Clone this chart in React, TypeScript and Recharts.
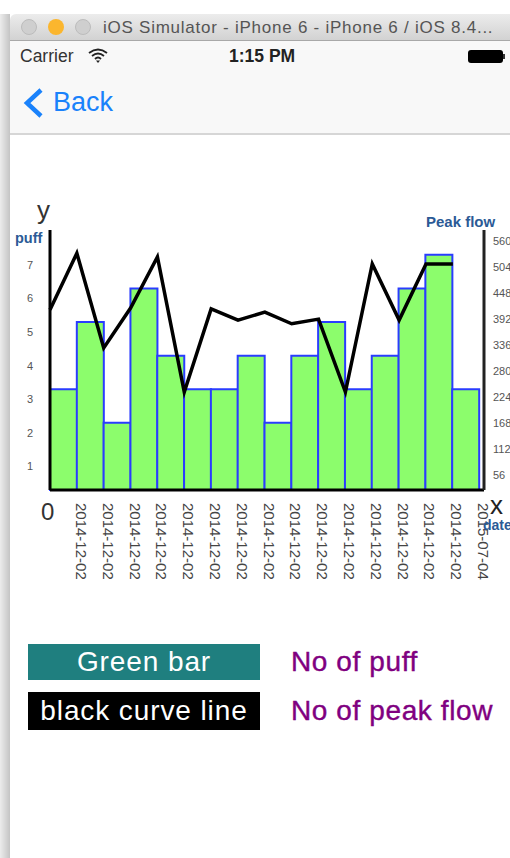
import { ComposedChart, Bar, Line, XAxis, YAxis } from 'recharts';

const dates = [
  '2014-12-02', '2014-12-02', '2014-12-02', '2014-12-02',
  '2014-12-02', '2014-12-02', '2014-12-02', '2014-12-02',
  '2014-12-02', '2014-12-02', '2014-12-02', '2014-12-02',
  '2014-12-02', '2014-12-02', '2014-12-02', '2015-07-04',
];
const slots = [0, 1, 2, 3, 4, 5, 6, 7, 8, 9, 10, 11, 12, 13, 14, 15];
const puffs = [3, 5, 2, 6, 4, 3, 3, 4, 2, 4, 5, 3, 4, 6, 7, 3];
const peakFlows = [388, 510, 306, 392, 502, 211, 390, 366, 383, 358, 368, 211, 487, 366, 487, 487];
const puffTicks = [1, 2, 3, 4, 5, 6, 7];
const peakTicks = [56, 112, 168, 224, 280, 336, 392, 448, 504, 560];

const data = dates.map((date, i) => ({ date, slot: slots[i], puff: puffs[i], peak: peakFlows[i] }));

const FONT = '"Liberation Sans", Arial, sans-serif';
const BLUE = '#2b5a96';

// date labels sit to the right of each bar, reading top to bottom
const DateTick = ({ x, y, payload }: any) => {
  const tx = x + 18;
  const ty = y + 5;
  return (
    <text
      x={tx}
      y={ty}
      transform={`rotate(90 ${tx} ${ty})`}
      fontFamily={FONT}
      fontSize={15}
      fill="#444"
      dominantBaseline="central"
    >
      {payload.value}
    </text>
  );
};

const abs = (left: number, top: number, width: number, height: number) =>
  ({ position: 'absolute', left, top, width, height } as const);

const Chrome = () => (
  <>
    <div style={{ ...abs(0, 0, 510, 858), background: '#fff' }} />
    <div style={{ ...abs(0, 14, 10, 844), background: 'linear-gradient(to right, #ececec, #c4c4c4)' }} />
    <div
      style={{
        ...abs(10, 14, 500, 27),
        background: 'linear-gradient(#ececec, #d2d2d2)',
        borderRadius: '6px 0 0 0',
        borderBottom: '1px solid #a8a8a8',
        boxSizing: 'border-box',
      }}
    />
    <div style={{ ...abs(21, 19, 16, 16), borderRadius: 8, background: '#cfcfcf', border: '1px solid #bcbcbc', boxSizing: 'border-box' }} />
    <div style={{ ...abs(48, 19, 16, 16), borderRadius: 8, background: '#fbb62e', boxSizing: 'border-box' }} />
    <div style={{ ...abs(75, 19, 16, 16), borderRadius: 8, background: '#cfcfcf', border: '1px solid #bcbcbc', boxSizing: 'border-box' }} />
    <div style={{ position: 'absolute', left: 103, top: 18, fontFamily: FONT, fontSize: 17, letterSpacing: 0.75, lineHeight: '19px', color: '#555', whiteSpace: 'nowrap' }}>
      iOS Simulator - iPhone 6 - iPhone 6 / iOS 8.4...
    </div>
    <div style={{ ...abs(10, 41, 500, 94), background: '#f8f8f8', borderBottom: '2px solid #d6d6d6', boxSizing: 'border-box' }} />
    <div style={{ position: 'absolute', left: 20, top: 46, fontFamily: FONT, fontSize: 17.5, lineHeight: '20px', color: '#333' }}>Carrier</div>
    <svg style={abs(88, 48, 20, 16)} viewBox="0 0 20 16">
      <path d="M1 5 Q10 -2 19 5 M4 8 Q10 3 16 8 M7 11 Q10 8 13 11" fill="none" stroke="#222" strokeWidth={1.8} />
      <path d="M8 12.5 L12 12.5 L10 15 Z" fill="#222" />
    </svg>
    <div style={{ position: 'absolute', left: 229, top: 46, fontFamily: FONT, fontSize: 17.5, lineHeight: '20px', fontWeight: 700, color: '#222' }}>1:15 PM</div>
    <div style={{ ...abs(468, 50, 35, 13), background: '#000', borderRadius: 3 }} />
    <div style={{ ...abs(503, 54, 2, 5), background: '#333' }} />
    <svg style={abs(20, 84, 28, 36)} viewBox="0 0 28 36">
      <polyline points="21,6 7,19 21,32" fill="none" stroke="#1a82fb" strokeWidth={4.5} />
    </svg>
    <div style={{ position: 'absolute', left: 53, top: 87, fontFamily: FONT, fontSize: 27, lineHeight: '30px', color: '#1a82fb' }}>Back</div>
  </>
);

const LegendRow = ({ top, height, bg, name, meaning }: any) => (
  <>
    <div
      style={{
        ...abs(28, top, 232, height),
        background: bg,
        color: '#fff',
        fontFamily: FONT,
        fontSize: 28,
        letterSpacing: 0.9,
        lineHeight: `${height}px`,
        textAlign: 'center',
        whiteSpace: 'nowrap',
      }}
    >
      {name}
    </div>
    <div
      style={{
        position: 'absolute',
        left: 291,
        top,
        fontFamily: FONT,
        fontSize: 28,
        letterSpacing: 0.6,
        lineHeight: `${height}px`,
        color: '#800080',
        WebkitTextStroke: '0.4px #800080',
        whiteSpace: 'nowrap',
      }}
    >
      {meaning}
    </div>
  </>
);

export default function App() {
  return (
    <div style={{ ...abs(0, 0, 510, 858), overflow: 'hidden' }}>
      <Chrome />
      <div style={abs(0, 0, 510, 620)}>
        <ComposedChart
          width={510}
          height={620}
          data={data}
          barCategoryGap={0}
          margin={{ top: 230, right: 0, bottom: 0, left: 0 }}
        >
          <XAxis
            xAxisId="bars"
            dataKey="date"
            height={130}
            interval={0}
            padding={{ left: 0, right: 5 }}
            axisLine={{ stroke: '#000', strokeWidth: 3 }}
            tickLine={false}
            tick={<DateTick />}
          />
          {/* the curve's points fall on the left edge of each bar, so it gets its own numeric axis */}
          <XAxis
            xAxisId="points"
            dataKey="slot"
            type="number"
            domain={[0, 16.16]}
            height={0}
            axisLine={false}
            tickLine={false}
            tick={false}
          />
          <YAxis
            yAxisId="puff"
            width={50}
            domain={[0, 7.74]}
            ticks={puffTicks}
            interval={0}
            axisLine={{ stroke: '#000', strokeWidth: 3 }}
            tickLine={false}
            tickMargin={11}
            tick={{ fontSize: 11, fill: '#555', fontFamily: FONT, dy: 10 }}
          />
          <YAxis
            yAxisId="peak"
            orientation="right"
            width={26}
            domain={[0, 560]}
            ticks={peakTicks}
            interval={0}
            axisLine={{ stroke: '#222', strokeWidth: 3 }}
            tickLine={false}
            tickMargin={3}
            tick={{ fontSize: 11, fill: '#555', fontFamily: FONT, dy: 11 }}
          />
          <Bar
            xAxisId="bars"
            yAxisId="puff"
            dataKey="puff"
            fill="#8cfd6c"
            stroke="#2a3cff"
            strokeWidth={2}
            isAnimationActive={false}
          />
          <Line
            xAxisId="points"
            yAxisId="peak"
            dataKey="peak"
            stroke="#000"
            strokeWidth={3.5}
            dot={false}
            isAnimationActive={false}
          />
        </ComposedChart>
      </div>
      <div style={{ position: 'absolute', left: 37, top: 195, fontFamily: FONT, fontSize: 26, lineHeight: '30px', color: '#333' }}>y</div>
      <div style={{ position: 'absolute', left: 15, top: 230, fontFamily: FONT, fontSize: 14.5, lineHeight: '16px', fontWeight: 700, color: BLUE }}>puff</div>
      <div style={{ position: 'absolute', left: 426, top: 214, fontFamily: FONT, fontSize: 15, lineHeight: '16px', fontWeight: 700, color: BLUE, whiteSpace: 'nowrap' }}>Peak flow</div>
      <div style={{ position: 'absolute', left: 41, top: 498, fontFamily: FONT, fontSize: 24, lineHeight: '28px', color: '#333' }}>0</div>
      <div style={{ position: 'absolute', left: 490, top: 490, fontFamily: FONT, fontSize: 26, lineHeight: '30px', color: '#222' }}>x</div>
      <div style={{ position: 'absolute', left: 483, top: 517, fontFamily: FONT, fontSize: 14, lineHeight: '16px', fontWeight: 700, color: BLUE }}>date</div>
      <LegendRow top={644} height={36} bg="#1f7f7f" name="Green bar" meaning="No of puff" />
      <LegendRow top={692} height={38} bg="#000" name="black curve line" meaning="No of peak flow" />
    </div>
  );
}
